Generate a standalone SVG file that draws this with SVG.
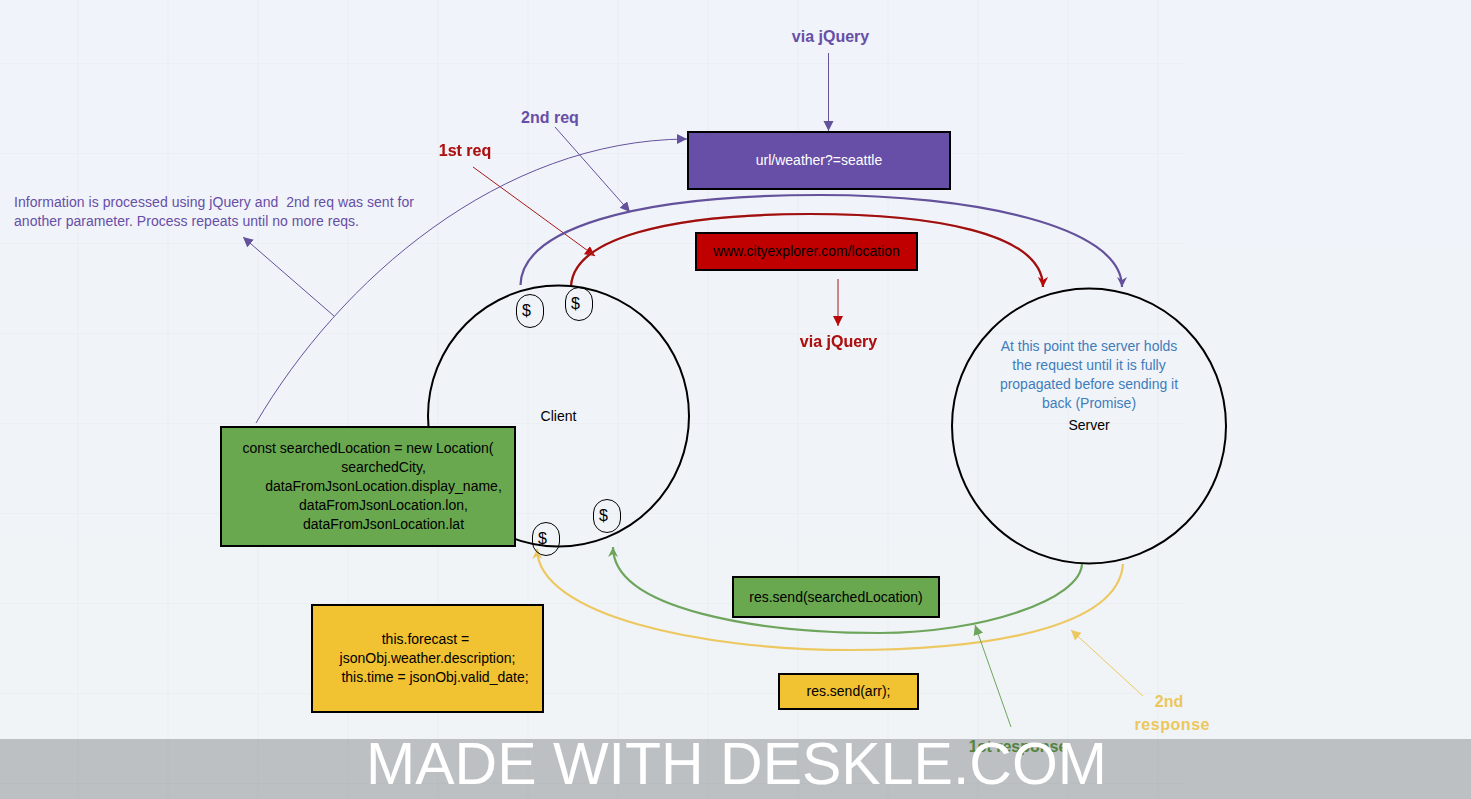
<svg xmlns="http://www.w3.org/2000/svg" width="1471" height="799" viewBox="0 0 1471 799">
<defs>
<marker id="ap" markerUnits="userSpaceOnUse" markerWidth="12" markerHeight="12" refX="10" refY="5" orient="auto"><path d="M0 0L10 5L0 10z" fill="#64519c"/></marker>
<marker id="ar" markerUnits="userSpaceOnUse" markerWidth="12" markerHeight="12" refX="10" refY="5" orient="auto"><path d="M0 0L10 5L0 10z" fill="#b80808"/></marker>
<marker id="ag" markerUnits="userSpaceOnUse" markerWidth="12" markerHeight="12" refX="10" refY="5" orient="auto"><path d="M0 0L10 5L0 10z" fill="#6ea55c"/></marker>
<marker id="ay" markerUnits="userSpaceOnUse" markerWidth="12" markerHeight="12" refX="10" refY="5" orient="auto"><path d="M0 0L10 5L0 10z" fill="#edc860"/></marker>
<marker id="np" markerUnits="userSpaceOnUse" markerWidth="12" markerHeight="12" refX="10" refY="5" orient="auto"><path d="M0 0L10 5L0 10L3 5z" fill="#64519c"/></marker>
<marker id="nr" markerUnits="userSpaceOnUse" markerWidth="12" markerHeight="12" refX="10" refY="5" orient="auto"><path d="M0 0L10 5L0 10L3 5z" fill="#b80808"/></marker>
<marker id="ng" markerUnits="userSpaceOnUse" markerWidth="12" markerHeight="12" refX="10" refY="5" orient="auto"><path d="M0 0L10 5L0 10L3 5z" fill="#6ea55c"/></marker>
<marker id="ny" markerUnits="userSpaceOnUse" markerWidth="12" markerHeight="12" refX="10" refY="5" orient="auto"><path d="M0 0L10 5L0 10L3 5z" fill="#edc860"/></marker>
<pattern id="grid" patternUnits="userSpaceOnUse" width="90" height="90" x="-12.5" y="-27"><path d="M90 0H0V90" fill="none" stroke="#e6e9ee" stroke-width="1"/></pattern>
<linearGradient id="bg" x1="0" y1="0" x2="0" y2="1"><stop offset="0" stop-color="#f0f3fa"/><stop offset="1" stop-color="#f0f4f6"/></linearGradient>
</defs>
<style>
text{font-family:"Liberation Sans",Arial,sans-serif;font-size:14px;text-anchor:middle;fill:#000;white-space:pre}
.box{stroke:#000;stroke-width:2}
.blob{fill:none;stroke:#000;stroke-width:1}
.circ{fill:none;stroke:#000;stroke-width:2}
.b{font-weight:bold;font-size:16px}
.l{text-anchor:start}
.c{fill:none}
.t{stroke-width:2.2}
.p{stroke:#64519c}.r{stroke:#9c1010}.rt{stroke:#a81818}.g{stroke:#6ea55c}.y{stroke:#edc860}
.glow{filter:drop-shadow(0 0 .6px #ffa0a0)}
.tp{fill:#674ea7}.tr{fill:#a81212}.ty{fill:#ebc75c}.tb{fill:#3f7cbc}
.coin{font-size:16px}
</style>
<rect width="1471" height="799" fill="url(#bg)"/>
<rect width="1185" height="799" fill="url(#grid)"/>
<g id="connectors">
<path class="c p" d="M828.5 53V131" marker-end="url(#ap)"/>
<path class="c p" d="M555 127L630 212" marker-end="url(#ap)"/>
<path class="c rt" d="M473 167L595 256" marker-end="url(#ar)"/>
<path class="c p" d="M334 316L243 237" marker-end="url(#ap)"/>
<path class="c p" d="M256 423C340 280 500 140 687 139" marker-end="url(#ap)"/>
<path class="c p t" d="M520.500 285C522 230 630 195 820 195C970 195 1122 225 1122 287" marker-end="url(#np)"/>
<path class="c r t glow" d="M571 286C574 238 670 214 810 214C930 214 1043 232 1043 287" marker-end="url(#nr)"/>
<path class="c rt" d="M838 279V326" marker-end="url(#ar)"/>
<path class="c g t" d="M1082 563C1082 600 980 633 880 633C760 633 613 610 613 547" marker-end="url(#ng)"/>
<path class="c y t" d="M1123 564C1118 630 980 650 850 650C700 650 538 615 537 549" marker-end="url(#ny)"/>
<path class="c g" d="M1011 727L975 625" marker-end="url(#ag)"/>
<path class="c y" d="M1143 696L1071 630" marker-end="url(#ay)"/>
</g>
<g id="client"><circle class="circ" cx="558.500" cy="416" r="130.500"/><text x="558.500" y="421">Client</text></g>
<g id="server"><ellipse class="circ" cx="1089" cy="426" rx="137" ry="137.500"/><text x="1089" y="430">Server</text>
<text class="tb" x="1089" y="351">At this point the server holds</text><text class="tb" x="1089" y="370">the request until it is fully</text><text class="tb" x="1089" y="389">propagated before sending it</text><text class="tb" x="1089" y="408">back (Promise)</text></g>
<g id="coin1"><rect class="blob" x="516.500" y="294.500" width="27" height="33" rx="13.500"/><text class="coin" x="526.500" y="316">$</text></g>
<g id="coin2"><rect class="blob" x="565.500" y="287.500" width="27" height="33" rx="13.500"/><text class="coin" x="575.500" y="309">$</text></g>
<g id="coin3"><rect class="blob" x="593.500" y="499.500" width="27" height="33" rx="13.500"/><text class="coin" x="603.500" y="521">$</text></g>
<g id="coin4"><rect class="blob" x="532.500" y="522.500" width="27" height="33" rx="13.500"/><text class="coin" x="542.500" y="544">$</text></g>
<g id="weather"><rect class="box" x="688" y="132" width="262" height="57" fill="#674ea7"/><text x="819" y="165" style="fill:#fff">url/weather?=seattle</text></g>
<g id="location"><rect class="box" x="696" y="233" width="221" height="37" fill="#c00000"/><text x="806.500" y="256">www.cityexplorer.com/location</text></g>
<g id="green-code"><rect class="box" x="221" y="427" width="294" height="119" fill="#6aa84f"/>
<text x="368" y="453">const searchedLocation = new Location(</text><text x="383.500" y="472">searchedCity,</text><text x="383.500" y="491">dataFromJsonLocation.display_name,</text><text x="383.500" y="510">dataFromJsonLocation.lon,</text><text x="383.500" y="529">dataFromJsonLocation.lat</text></g>
<g id="yellow-code"><rect class="box" x="312" y="605" width="231" height="107" fill="#f1c232"/>
<text x="425.500" y="644">this.forecast =</text><text x="427.500" y="663">jsonObj.weather.description;</text><text x="435" y="682">this.time = jsonObj.valid_date;</text></g>
<g id="res-send-loc"><rect class="box" x="733" y="577" width="206" height="40" fill="#6aa84f"/><text x="836" y="602">res.send(searchedLocation)</text></g>
<g id="res-send-arr"><rect class="box" x="779" y="674" width="139" height="35" fill="#f1c232"/><text x="848.500" y="696">res.send(arr);</text></g>
<g id="labels">
<text class="b tp" x="830.500" y="42">via jQuery</text>
<text class="b tp" x="550" y="123">2nd req</text>
<text class="b tr glow" x="465" y="156">1st req</text>
<text class="b tr glow" x="838.500" y="347">via jQuery</text>
<text class="l tp" x="14" y="207" textLength="400">Information is processed using jQuery and  2nd req was sent for</text>
<text class="l tp" x="14" y="226" textLength="345">another parameter. Process repeats until no more reqs.</text>
<text class="b ty" x="1169" y="707">2nd</text>
<text class="b ty" x="1172" y="730" textLength="75">response</text>
<text class="b" x="1018" y="752" style="fill:#6aa84f">1st response</text>
</g>
<rect y="739" width="1471" height="60" fill="#000" fill-opacity="0.21"/>
<text x="736.500" y="784" style="font-size:59px;fill:#fff">MADE WITH DESKLE.COM</text>
</svg>
